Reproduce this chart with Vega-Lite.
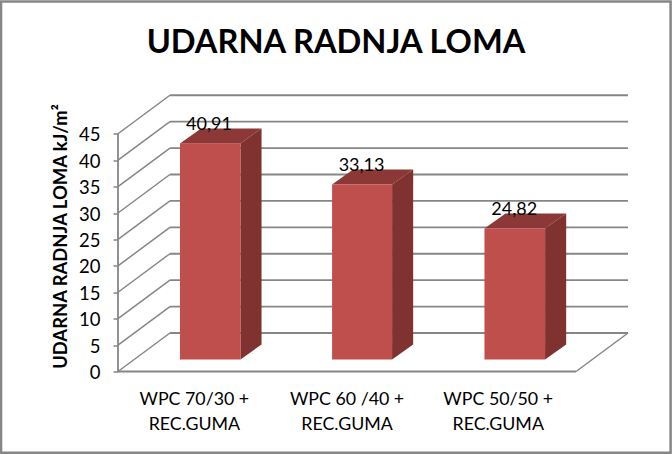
{
  "$schema": "https://vega.github.io/schema/vega-lite/v6.json",
  "autosize": "none",
  "width": 510,
  "height": 280,
  "padding": {"left": 118, "top": 91.5, "right": 44, "bottom": 82.5},
  "background": "white",
  "title": {
    "text": "UDARNA RADNJA LOMA",
    "font": "Lato",
    "fontSize": 32.6,
    "fontWeight": "bold",
    "color": "black",
    "anchor": "middle",
    "frame": "group",
    "dx": -37,
    "offset": -59
  },
  "resolve": {"axis": {"y": "independent"}},
  "datasets": {
    "bars": [
      {"name": "WPC 70/30 +\nREC.GUMA", "value": 40.91, "text": "40,91", "start": 0.406, "end": 0.802, "mid": 0.596, "labelPos": 0.5},
      {"name": "WPC 60 /40 +\nREC.GUMA", "value": 33.13, "text": "33,13", "start": 1.402, "end": 1.795, "mid": 1.595, "labelPos": 1.5},
      {"name": "WPC 50/50 +\nREC.GUMA", "value": 24.82, "text": "24,82", "start": 2.4, "end": 2.797, "mid": 2.595, "labelPos": 2.49}
    ],
    "ticks": [
      {"tick": 0}, {"tick": 5}, {"tick": 10}, {"tick": 15}, {"tick": 20},
      {"tick": 25}, {"tick": 30}, {"tick": 35}, {"tick": 40}, {"tick": 45}
    ],
    "side": [
      {"bar": "a", "pos": 0.802, "low": 2.27, "high": 43.18},
      {"bar": "a", "pos": 0.94, "low": 5.11, "high": 46.02},
      {"bar": "b", "pos": 1.795, "low": 2.27, "high": 35.4},
      {"bar": "b", "pos": 1.933, "low": 5.11, "high": 38.24},
      {"bar": "c", "pos": 2.797, "low": 2.27, "high": 27.09},
      {"bar": "c", "pos": 2.935, "low": 5.11, "high": 29.93}
    ],
    "top": [
      {"bar": "a", "level": 43.18, "left": 0.406, "right": 0.802},
      {"bar": "a", "level": 46.02, "left": 0.544, "right": 0.94},
      {"bar": "b", "level": 35.4, "left": 1.402, "right": 1.795},
      {"bar": "b", "level": 38.24, "left": 1.54, "right": 1.933},
      {"bar": "c", "level": 27.09, "left": 2.4, "right": 2.797},
      {"bar": "c", "level": 29.93, "left": 2.538, "right": 2.935}
    ]
  },
  "layer": [
    {
      "data": {"values": [{}]},
      "mark": {"type": "rect", "fill": null, "stroke": "#868686", "strokeWidth": 2.5},
      "encoding": {
        "x": {"datum": -0.766, "type": "quantitative", "scale": {"domain": [0, 3.34]}, "axis": null},
        "x2": {"datum": 3.619},
        "y": {"datum": 70.04, "type": "quantitative", "scale": {"domain": [0, 53]}, "axis": null},
        "y2": {"datum": -15.4}
      }
    },
    {
      "data": {"name": "ticks"},
      "mark": {"type": "rule", "color": "#868686", "strokeWidth": 1.8, "yOffset": -38.5},
      "encoding": {
        "x": {"datum": 0.34, "type": "quantitative", "scale": {"domain": [0, 3.34]}, "axis": null},
        "x2": {"datum": 3.34},
        "y": {
          "field": "tick",
          "type": "quantitative",
          "scale": {"domain": [0, 53]},
          "axis": {
            "orient": "left",
            "values": [0, 5, 10, 15, 20, 25, 30, 35, 40, 45],
            "title": "UDARNA RADNJA LOMA kJ/m²",
            "titleFont": "Lato",
            "titleFontSize": 18.4,
            "titleFontWeight": "bold",
            "titleColor": "black",
            "titleX": -48,
            "titleY": 144.5,
            "grid": false,
            "domain": false,
            "tickColor": "#868686",
            "tickSize": 5,
            "tickWidth": 1.5,
            "labelFont": "Lato",
            "labelFontSize": 18.5,
            "labelColor": "black",
            "labelPadding": 13,
            "labelOffset": 1
          }
        }
      }
    },
    {
      "data": {"name": "ticks"},
      "mark": {"type": "rule", "color": "#868686", "strokeWidth": 1.5, "y2Offset": -38.5},
      "encoding": {
        "x": {"datum": 0, "type": "quantitative", "scale": {"domain": [0, 3.34]}, "axis": null},
        "x2": {"datum": 0.34},
        "y": {"field": "tick", "type": "quantitative", "scale": {"domain": [0, 53]}, "axis": null},
        "y2": {"field": "tick"}
      }
    },
    {
      "data": {"values": [{"floor": 0}]},
      "mark": {"type": "rule", "color": "#868686", "strokeWidth": 1.8},
      "encoding": {
        "x": {"datum": 0, "type": "quantitative", "scale": {"domain": [0, 3.34]}, "axis": null},
        "x2": {"datum": 3},
        "y": {"field": "floor", "type": "quantitative", "scale": {"domain": [0, 53]}, "axis": null}
      }
    },
    {
      "data": {"values": [{"floor": 0}]},
      "mark": {"type": "rule", "color": "#868686", "strokeWidth": 1.5, "y2Offset": -38.5},
      "encoding": {
        "x": {"datum": 3, "type": "quantitative", "scale": {"domain": [0, 3.34]}, "axis": null},
        "x2": {"datum": 3.34},
        "y": {"field": "floor", "type": "quantitative", "scale": {"domain": [0, 53]}, "axis": null},
        "y2": {"field": "floor"}
      }
    },
    {
      "data": {"values": [{"from": 0, "to": 45}]},
      "mark": {"type": "rule", "color": "#868686", "strokeWidth": 1.8},
      "encoding": {
        "x": {"datum": 0, "type": "quantitative", "scale": {"domain": [0, 3.34]}, "axis": null},
        "y": {"field": "from", "type": "quantitative", "scale": {"domain": [0, 53]}, "axis": null},
        "y2": {"field": "to"}
      }
    },
    {
      "data": {"name": "side"},
      "mark": {"type": "area", "color": "#7F3230", "orient": "vertical"},
      "encoding": {
        "detail": {"field": "bar"},
        "x": {"field": "pos", "type": "quantitative", "scale": {"domain": [0, 3.34]}, "axis": null},
        "y": {"field": "low", "type": "quantitative", "scale": {"domain": [0, 53]}, "axis": null},
        "y2": {"field": "high"}
      }
    },
    {
      "data": {"name": "top"},
      "mark": {"type": "area", "color": "#8C3836", "orient": "horizontal"},
      "encoding": {
        "detail": {"field": "bar"},
        "y": {"field": "level", "type": "quantitative", "scale": {"domain": [0, 53]}, "axis": null},
        "x": {"field": "left", "type": "quantitative", "scale": {"domain": [0, 3.34]}, "axis": null},
        "x2": {"field": "right"}
      }
    },
    {
      "data": {"name": "bars"},
      "mark": {"type": "rect", "color": "#BE4F4C", "yOffset": -12, "y2Offset": -12},
      "encoding": {
        "x": {"field": "start", "type": "quantitative", "scale": {"domain": [0, 3.34]}, "axis": null},
        "x2": {"field": "end"},
        "y": {"field": "value", "type": "quantitative", "scale": {"domain": [0, 53]}, "axis": null},
        "y2": {"datum": 0}
      }
    },
    {
      "data": {"name": "bars"},
      "mark": {"type": "text", "font": "Lato", "fontSize": 18, "color": "black", "baseline": "alphabetic", "align": "center", "dy": -25},
      "encoding": {
        "text": {"field": "text"},
        "x": {"field": "mid", "type": "quantitative", "scale": {"domain": [0, 3.34]}, "axis": null},
        "y": {"field": "value", "type": "quantitative", "scale": {"domain": [0, 53]}, "axis": null}
      }
    },
    {
      "data": {"name": "bars"},
      "mark": {"type": "text", "font": "Lato", "fontSize": 17.8, "color": "black", "baseline": "alphabetic", "align": "center", "lineBreak": "\n", "lineHeight": 25},
      "encoding": {
        "text": {"field": "name"},
        "x": {"field": "labelPos", "type": "quantitative", "scale": {"domain": [0, 3.34]}, "axis": null},
        "y": {"datum": -6.34, "type": "quantitative", "scale": {"domain": [0, 53]}, "axis": null}
      }
    }
  ],
  "config": {"view": {"stroke": null}}
}
